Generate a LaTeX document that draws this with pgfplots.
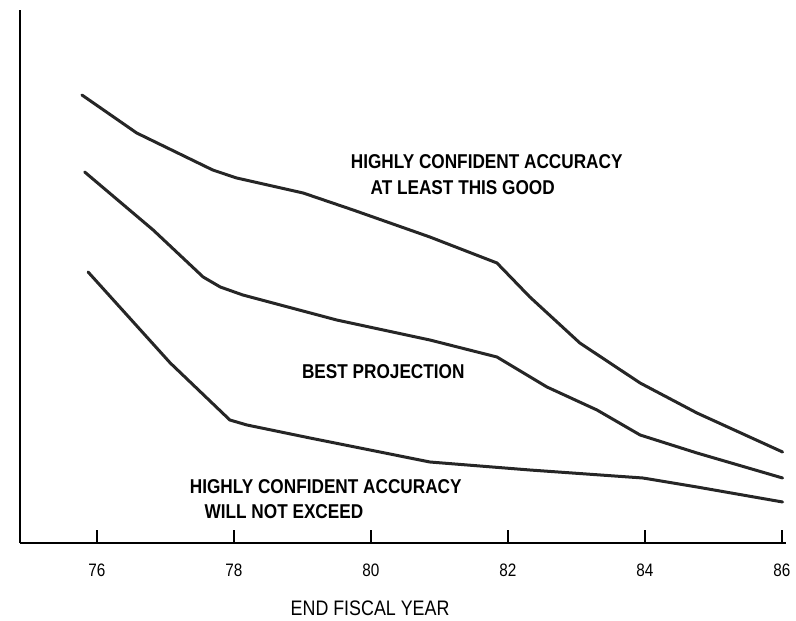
\documentclass[border=0pt]{standalone}
\usepackage{fontspec}
\setmainfont{Liberation Sans}
\newfontfamily\cond[FakeStretch=0.86]{Liberation Sans}
\newfontfamily\condx[FakeStretch=0.85]{Liberation Sans}
\usepackage{pgfplots}
\pgfplotsset{compat=1.18}
\tikzset{
  curve/.style={line width=1.5pt, black!85, line join=round, line cap=round, mark=none},
  lab/.style={font=\cond\bfseries\fontsize{10}{12}\selectfont},
}

% curves: x = fiscal year, y = height above the baseline (px)
\pgfplotstableread{
x      y
75.78  448
76.58  410
77.69  373
78.04  365
79.01  350
79.74  333
80.86  306
81.84  280
82.32  246
83.05  200
83.93  160
84.76  130
86.01  91
}\upperdata
\pgfplotstableread{
x      y
75.82  371
76.82  313
77.55  266
77.80  256
78.13  248
79.50  223
80.86  203
81.84  186
82.57  156
83.30  133
83.93  108
84.76  90
86.01  65
}\bestdata
\pgfplotstableread{
x      y
75.87  271
77.07  180
77.94  123
78.19  118
79.11  105
80.86  81
82.32  73
83.97  65
84.76  56
86.01  41
}\lowerdata

\begin{document}
\begin{tikzpicture}
\useasboundingbox (-10pt,-38.5pt) rectangle (388pt,271.5pt);
\begin{axis}[
  scale only axis,
  width=383pt, height=266.5pt,
  xmin=74.876, xmax=86.06,
  ymin=0, ymax=533,
  axis x line=bottom, axis y line=left,
  axis line style={-, line width=1pt},
  ytick=\empty,
  xtick={76,78,80,82,84,86},
  xticklabels={76,78,80,82,84,86},
  xtick align=inside,
  major tick length=6.5pt,
  tick style={line width=0.7pt, black},
  xticklabel style={font=\condx\fontsize{9}{10}\selectfont, yshift=-7pt},
  xlabel={END FISCAL YEAR},
  xlabel style={font=\condx\fontsize{10.5}{12}\selectfont,
    at={(axis description cs:0.457,-0.122)}, anchor=center},
  clip=false,
]
\addplot[curve] table {\upperdata};
\addplot[curve] table {\bestdata};
\addplot[curve] table {\lowerdata};

\node[lab] at (axis cs:81.69,381) {HIGHLY CONFIDENT ACCURACY};
\node[lab] at (axis cs:81.34,355) {AT LEAST THIS GOOD};
\node[lab] at (axis cs:80.18,171) {BEST PROJECTION};
\node[lab] at (axis cs:79.34,56) {HIGHLY CONFIDENT ACCURACY};
\node[lab] at (axis cs:78.73,31) {WILL NOT EXCEED};
\end{axis}
\end{tikzpicture}
\end{document}
